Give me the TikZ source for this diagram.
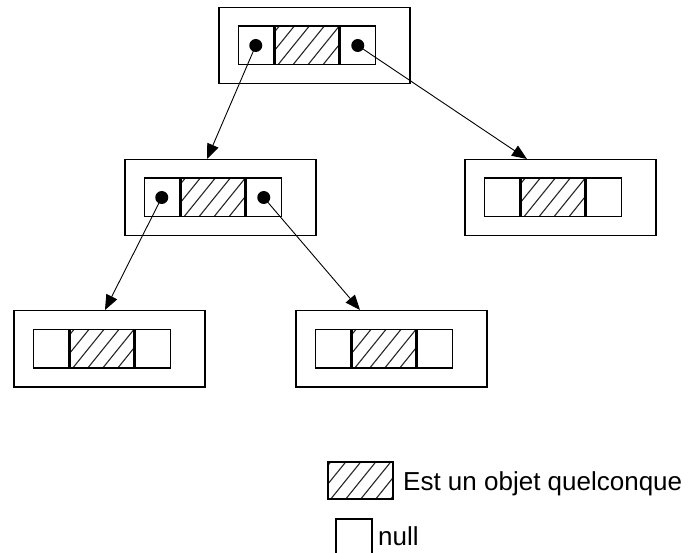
\documentclass[tikz,border=0pt]{standalone}
\usepackage{fontspec}
\setmainfont{Liberation Sans}
\usetikzlibrary{calc,arrows.meta}

% Hatching drawn inside a node's own outline
\tikzset{
  hatchline/.style={line width=1.1pt, black!85},
  hatched/.style={path picture={
    \foreach \k in {-4,...,8}
      \draw[hatchline] ($(path picture bounding box.south west)+(\k*15,4)$) -- ++(38,-47);
  }},
  outerbox/.style={draw, line width=1.5pt, minimum width=191pt, minimum height=76pt, inner sep=0pt},
  cellbox/.style={draw, line width=1.5pt, minimum width=35pt, minimum height=38.5pt, inner sep=0pt},
  databox/.style={cellbox, minimum width=64pt, hatched},
  refdot/.style={circle, fill=black, minimum size=13pt, inner sep=0pt},
  ptr/.style={line width=0.9pt, -{Triangle[length=15pt,width=12pt]}},
  lbl/.style={font=\fontsize{26pt}{30pt}\selectfont, inner sep=0pt, anchor=base west}
}

% One tree node: frame, left pointer cell, data cell, right pointer cell
\newcommand\record[3]{%
  \node[outerbox, anchor=north west] (#1) at (#2,#3) {};
  \node[cellbox, anchor=north west] (#1-l) at ($(#1.north west)+(19.5,18.5)$) {};
  \node[databox, anchor=west] (#1-d) at (#1-l.east) {};
  \node[cellbox, anchor=west] (#1-r) at (#1-d.east) {};
}

\begin{document}
\begin{tikzpicture}[x=1pt, y=-1pt]
  \useasboundingbox (0,0) rectangle (688,553);

  \record{root}{218}{7}
  \record{left}{124}{159}
  \record{right}{464}{159}
  \record{ll}{13}{310}
  \record{lr}{295}{310}

  % pointers held by the inner nodes
  \node[refdot] (root-ld) at (root-l) {};
  \node[refdot] (root-rd) at (root-r) {};
  \node[refdot] (left-ld) at (left-l) {};
  \node[refdot] (left-rd) at (left-r) {};

  \coordinate (left-in)  at ($(left.north west)+(83,0)$);
  \coordinate (right-in) at ($(right.north west)+(63,0)$);
  \coordinate (ll-in)    at ($(ll.north west)+(92,0)$);
  \coordinate (lr-in)    at ($(lr.north west)+(65,0)$);

  \draw[ptr] (root-ld.center) -- (left-in);
  \draw[ptr] (root-rd.center) -- (right-in);
  \draw[ptr] (left-ld.center) -- (ll-in);
  \draw[ptr] (left-rd.center) -- (lr-in);

  % legend
  \node[databox, minimum width=65pt, minimum height=37pt, anchor=north west] (key-obj) at (327,461) {};
  \node[lbl] (key-obj-txt) at (403,490) {Est un objet quelconque};
  \node[cellbox, minimum width=36pt, minimum height=42pt, anchor=north west] (key-null) at (335,518) {};
  \node[lbl] (key-null-txt) at (378,545) {null};
\end{tikzpicture}
\end{document}
